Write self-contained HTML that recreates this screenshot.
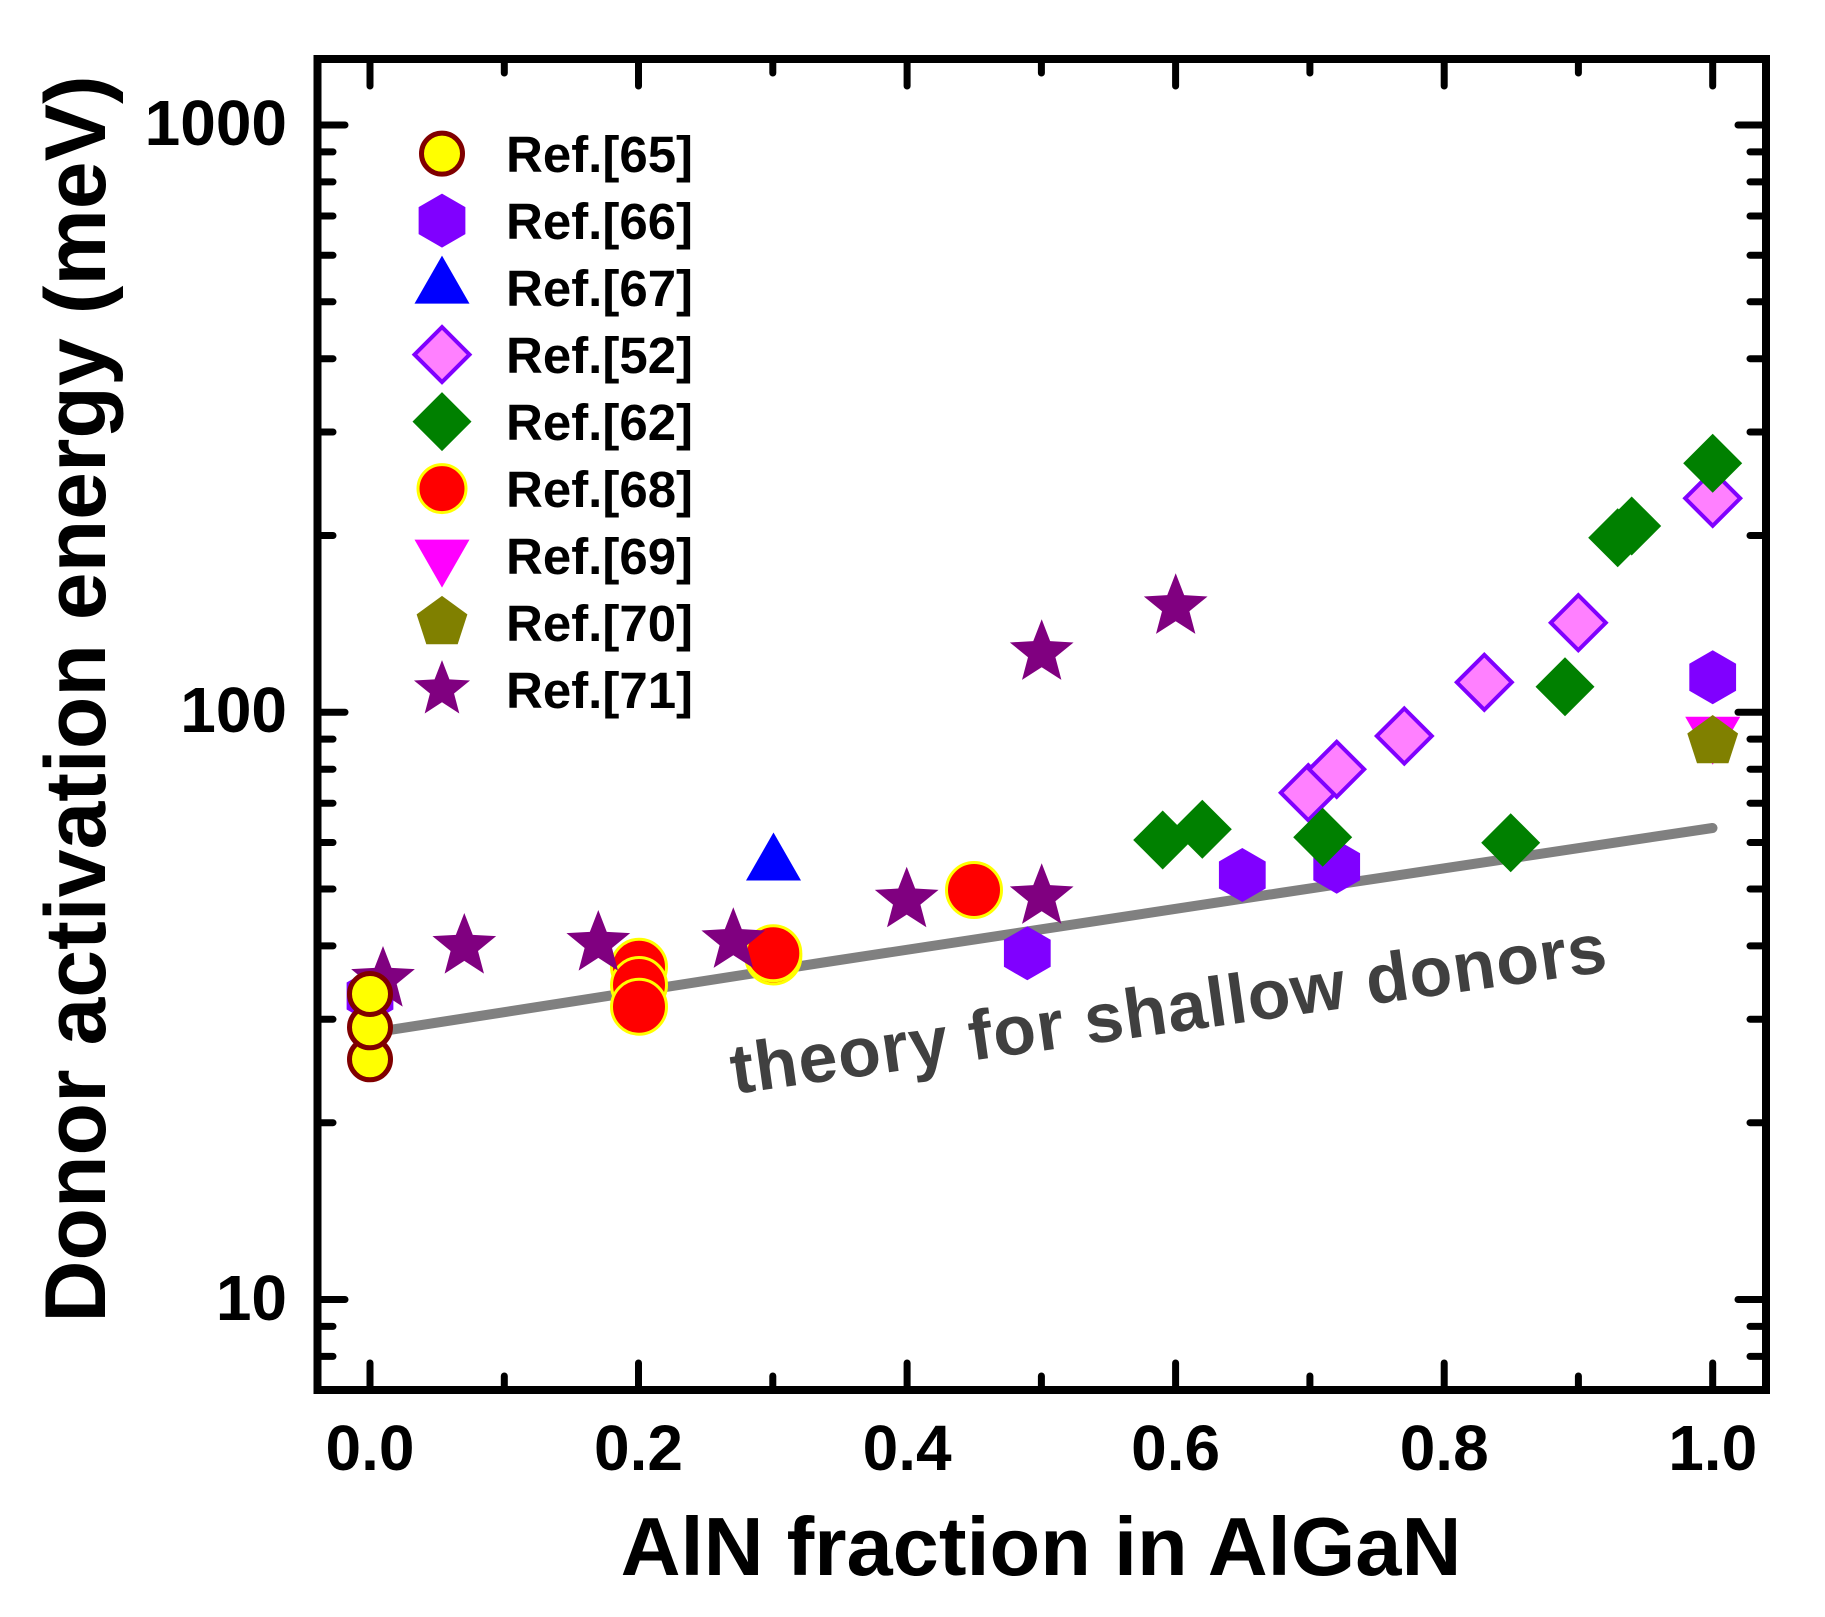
<!DOCTYPE html>
<html><head><meta charset="utf-8"><style>
html,body{margin:0;padding:0;background:#fff;}
svg{display:block;}
text{font-family:"Liberation Sans",Arial,sans-serif;font-weight:bold;}
</style></head><body>
<svg width="1825" height="1617" viewBox="0 0 1825 1617" xmlns="http://www.w3.org/2000/svg">
<defs>
<g id="hex"><polygon points="0,-27 23.38,-13.5 23.38,13.5 0,27 -23.38,13.5 -23.38,-13.5" fill="#8000ff"/></g>
<g id="tri"><polygon points="0,-32 27.5,16 -27.5,16" fill="#0000ff"/></g>
<g id="pink"><polygon points="0,-27.5 27.5,0 0,27.5 -27.5,0" fill="#ff80ff" stroke="#8000ff" stroke-width="4"/></g>
<g id="green"><polygon points="0,-29.5 29.5,0 0,29.5 -29.5,0" fill="#008000"/></g>
<g id="red"><circle r="27.5" fill="#ff0000" stroke="#ffff00" stroke-width="3"/></g>
<g id="dtri"><polygon points="-27.5,-16 27.5,-16 0,32" fill="#ff00ff"/></g>
<g id="pent"><polygon points="0,-26.7 25.39,-8.25 15.69,21.6 -15.69,21.6 -25.39,-8.25" fill="#808000"/></g>
<g id="star"><polygon points="0,-33.5 8.46,-11.65 31.86,-10.35 13.7,4.45 19.69,27.1 0,14.4 -19.69,27.1 -13.7,4.45 -31.86,-10.35 -8.46,-11.65" fill="#800080"/></g>
<g id="yel"><circle r="20.5" fill="#ffff00" stroke="#800000" stroke-width="5"/></g>
</defs>

<!-- theory line -->
<polyline points="370,1033 820,963 1280,893 1712.5,828" fill="none" stroke="#808080" stroke-width="10" stroke-linecap="round" stroke-linejoin="round"/>

<!-- Ref66 hexagons -->
<use href="#hex" transform="translate(370,996)"/>
<use href="#hex" transform="translate(1027.3,953.3)"/>
<use href="#hex" transform="translate(1242.3,875)"/>
<use href="#hex" transform="translate(1336.7,866.7)"/>
<use href="#hex" transform="translate(1712.7,677.3)"/>
<!-- Ref67 -->
<use href="#tri" transform="translate(773.5,864.5)"/>
<!-- Ref52 -->
<use href="#pink" transform="translate(1308.3,792.7)"/>
<use href="#pink" transform="translate(1336.7,769.3)"/>
<use href="#pink" transform="translate(1404.3,736)"/>
<use href="#pink" transform="translate(1484.3,682.3)"/>
<use href="#pink" transform="translate(1578.3,622.7)"/>
<use href="#pink" transform="translate(1712.7,498.3)"/>
<!-- Ref62 -->
<use href="#green" transform="translate(1162.7,840)"/>
<use href="#green" transform="translate(1202.3,829.3)"/>
<use href="#green" transform="translate(1322.7,837.3)"/>
<use href="#green" transform="translate(1510.7,842.7)"/>
<use href="#green" transform="translate(1565,686.7)"/>
<use href="#green" transform="translate(1617.7,537.7)"/>
<use href="#green" transform="translate(1631.7,526)"/>
<use href="#green" transform="translate(1712.7,463.3)"/>
<!-- Ref68 -->
<use href="#red" transform="translate(639,966.7)"/>
<use href="#red" transform="translate(639,985)"/>
<use href="#red" transform="translate(639,1006.7)"/>
<use href="#red" transform="translate(773.3,956.5)"/>
<use href="#red" transform="translate(773.3,953.3)"/>
<use href="#red" transform="translate(974,890)"/>
<!-- Ref69 -->
<use href="#dtri" transform="translate(1712.7,732.7)"/>
<!-- Ref70 -->
<use href="#pent" transform="translate(1712.7,741.7)"/>
<!-- Ref71 -->
<use href="#star" transform="translate(383,979.5)"/>
<use href="#star" transform="translate(464.3,946.5)"/>
<use href="#star" transform="translate(598.3,943.5)"/>
<use href="#star" transform="translate(733.3,940.8)"/>
<use href="#star" transform="translate(906.7,900.2)"/>
<use href="#star" transform="translate(1041.7,896.8)"/>
<use href="#star" transform="translate(1041.7,652.8)"/>
<use href="#star" transform="translate(1175.7,606.8)"/>
<!-- Ref65 -->
<use href="#yel" transform="translate(370,1059.3)"/>
<use href="#yel" transform="translate(370,1027.3)"/>
<use href="#yel" transform="translate(370,994)"/>

<!-- theory label -->
<text x="734" y="1094" font-size="70" fill="#404040" letter-spacing="1" transform="rotate(-8 734 1094)">theory for shallow donors</text>

<!-- Legend -->
<use href="#yel" transform="translate(442,153.6)"/>
<use href="#hex" transform="translate(442,220.6)"/>
<use href="#tri" transform="translate(442,287.6)"/>
<use href="#pink" transform="translate(442,354.6)"/>
<use href="#green" transform="translate(442,421.6)"/>
<g transform="translate(442,488.6)"><circle r="24" fill="#ff0000" stroke="#ffff00" stroke-width="3"/></g>
<use href="#dtri" transform="translate(442,555.6)"/>
<use href="#pent" transform="translate(442,622.6)"/>
<use href="#star" transform="translate(442,689.6) scale(0.88)"/>
<g font-size="51" fill="#000">
<text x="506" y="172">Ref.[65]</text>
<text x="506" y="239">Ref.[66]</text>
<text x="506" y="306">Ref.[67]</text>
<text x="506" y="373">Ref.[52]</text>
<text x="506" y="440">Ref.[62]</text>
<text x="506" y="507">Ref.[68]</text>
<text x="506" y="574">Ref.[69]</text>
<text x="506" y="641">Ref.[70]</text>
<text x="506" y="708">Ref.[71]</text>
</g>

<!-- ticks -->
<g stroke="#000" stroke-width="7" stroke-linecap="round" fill="none">
<!-- bottom -->
<path d="M370,1390V1363 M504.3,1390V1376 M638.5,1390V1363 M772.8,1390V1376 M907.1,1390V1363 M1041.4,1390V1376 M1175.6,1390V1363 M1309.9,1390V1376 M1444.2,1390V1363 M1578.4,1390V1376 M1712.7,1390V1363"/>
<!-- top -->
<path d="M370,59V86 M504.3,59V73 M638.5,59V86 M772.8,59V73 M907.1,59V86 M1041.4,59V73 M1175.6,59V86 M1309.9,59V73 M1444.2,59V86 M1578.4,59V73 M1712.7,59V86"/>
<!-- left -->
<path d="M317.5,1356.4H333 M317.5,1326.4H333 M317.5,1299.5H345 M317.5,1122.7H333 M317.5,1019.3H333 M317.5,945.9H333 M317.5,889H333 M317.5,842.5H333 M317.5,803.2H333 M317.5,769.2H333 M317.5,739.1H333 M317.5,712.25H345 M317.5,535.5H333 M317.5,432H333 M317.5,358.7H333 M317.5,301.8H333 M317.5,255.3H333 M317.5,216H333 M317.5,181.9H333 M317.5,151.9H333 M317.5,125H345"/>
<!-- right -->
<path d="M1766,1356.4H1750 M1766,1326.4H1750 M1766,1299.5H1738 M1766,1122.7H1750 M1766,1019.3H1750 M1766,945.9H1750 M1766,889H1750 M1766,842.5H1750 M1766,803.2H1750 M1766,769.2H1750 M1766,739.1H1750 M1766,712.25H1738 M1766,535.5H1750 M1766,432H1750 M1766,358.7H1750 M1766,301.8H1750 M1766,255.3H1750 M1766,216H1750 M1766,181.9H1750 M1766,151.9H1750 M1766,125H1738"/>
</g>
<!-- frame -->
<rect x="317.5" y="59" width="1448.5" height="1331" fill="none" stroke="#000" stroke-width="8"/>

<!-- tick labels -->
<g font-size="64" fill="#000" text-anchor="middle">
<text x="370" y="1470">0.0</text>
<text x="638.5" y="1470">0.2</text>
<text x="907.1" y="1470">0.4</text>
<text x="1175.6" y="1470">0.6</text>
<text x="1444.2" y="1470">0.8</text>
<text x="1712.7" y="1470">1.0</text>
</g>
<g font-size="64" fill="#000" text-anchor="end">
<text x="287" y="145">1000</text>
<text x="287" y="732">100</text>
<text x="287" y="1320">10</text>
</g>

<!-- axis titles -->
<text x="1041" y="1575" font-size="83" fill="#000" text-anchor="middle">AlN fraction in AlGaN</text>
<text x="105" y="699" font-size="86" fill="#000" text-anchor="middle" transform="rotate(-90 105 699)">Donor activation energy (meV)</text>
</svg>
</body></html>
